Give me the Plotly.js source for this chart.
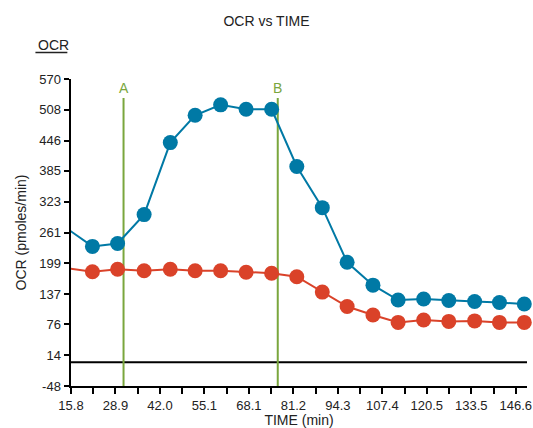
<!DOCTYPE html>
<html>
<head>
<meta charset="utf-8">
<script src="https://cdn.plot.ly/plotly-3.0.1.min.js"></script>
<style>html,body{margin:0;padding:0;background:#fff;}#chart{width:533px;height:428px;}</style>
</head>
<body>
<div id="chart"></div>
<script>
// Measurement times (min); the first one lies just left of the visible axis range
const times = [14.8, 22.1, 29.5, 37.3, 45.0, 52.3, 59.8, 67.3, 74.8, 82.2, 89.7, 97.0, 104.6, 112.0, 119.5, 126.9, 134.5, 141.8, 149.1];
// OCR series (pmoles/min)
const ocrBlue = [268, 233, 239, 297, 442, 497, 518, 509, 509, 394, 311, 201, 155, 125, 127, 124, 122, 120, 117];
const ocrRed  = [189, 182, 187, 184, 187, 184, 184, 181, 179, 172, 141, 112, 95, 80, 85, 82, 83, 80, 80];
// Injection markers
const injLabels = ["A", "B"];
const injTimes = [31.25, 76.6];
// Axis ticks
const yTickVals = [-48, 14, 76, 137, 199, 261, 323, 385, 446, 508, 570];
const yTickText = ["-48", "14", "76", "137", "199", "261", "323", "385", "446", "508", "570"];
const xTickLabels = ["15.8", "28.9", "42.0", "55.1", "68.1", "81.2", "94.3", "107.4", "120.5", "133.5", "146.6"];
const xStart = 15.8, xStep = 6.54, xMax = 149.9;

const xTickVals = [], xTickText = [];
for (let i = 0; i < 21; i++) {
  xTickVals.push(xStart + i * xStep);
  xTickText.push(i % 2 === 0 ? xTickLabels[i / 2] : "");
}

const font = "Arial, 'Liberation Sans', Helvetica, sans-serif";
const green = "#7aa63d";
const blue = "#0079a5", red = "#da4229";

const inRange = times.map((t) => t >= xStart);
const sel = (arr) => arr.filter((_, i) => inRange[i]);

const traces = [
  {x: times, y: ocrBlue, mode: "lines", type: "scatter", line: {color: blue, width: 2}, showlegend: false},
  {x: times, y: ocrRed, mode: "lines", type: "scatter", line: {color: red, width: 2}, showlegend: false},
  {x: sel(times), y: sel(ocrBlue), mode: "markers", type: "scatter", cliponaxis: false,
   marker: {color: blue, size: 15}, showlegend: false},
  {x: sel(times), y: sel(ocrRed), mode: "markers", type: "scatter", cliponaxis: false,
   marker: {color: red, size: 15}, showlegend: false}
];

const shapes = [
  {type: "line", xref: "x", yref: "y", x0: xStart, x1: xMax, y0: 0, y1: 0, line: {color: "#000", width: 2}, layer: "below"},
  {type: "line", xref: "paper", yref: "paper", x0: -0.078, x1: -0.008, y0: 1 + 26.5/307, y1: 1 + 26.5/307, line: {color: "#222", width: 1.5}}
];
const annotations = [
  {xref: "paper", yref: "paper", x: -0.077, y: 1.0 + 34/307, xanchor: "left", yanchor: "middle",
   text: "OCR", showarrow: false, font: {family: font, size: 14, color: "#222"}}
];
injTimes.forEach((t, i) => {
  shapes.push({type: "line", xref: "x", yref: "y", x0: t, x1: t, y0: -48, y1: 532, line: {color: green, width: 2}, layer: "below"});
  annotations.push({xref: "x", yref: "y", x: t, y: 552, text: injLabels[i], showarrow: false,
    xanchor: "center", yanchor: "middle", font: {family: font, size: 14, color: green}});
});

const layout = {
  width: 533, height: 428,
  margin: {l: 70.7, r: 5.7, t: 79.3, b: 42},
  paper_bgcolor: "#fff", plot_bgcolor: "#fff",
  font: {family: font, color: "#222", size: 13},
  title: {text: "OCR vs TIME", x: 0.5, xref: "container", y: 1 - 21.5/428, yref: "container", yanchor: "middle",
          font: {family: font, size: 14, color: "#222"}},
  xaxis: {
    range: [xStart, xMax], tickvals: xTickVals, ticktext: xTickText,
    ticks: "outside", ticklen: 6, tickwidth: 2, tickcolor: "#000",
    showline: true, linecolor: "#000", linewidth: 2, showgrid: false, zeroline: false,
    tickfont: {family: font, size: 13, color: "#222"},
    title: {text: "TIME (min)", standoff: 2, font: {family: font, size: 14, color: "#222"}}
  },
  yaxis: {
    range: [-48, 570], tickvals: yTickVals, ticktext: yTickText,
    ticks: "outside", ticklen: 5, tickwidth: 2, tickcolor: "#000",
    showline: true, linecolor: "#000", linewidth: 2.5, showgrid: false, zeroline: false,
    tickfont: {family: font, size: 13, color: "#222"},
    title: {text: "OCR (pmoles/min)", standoff: 10, font: {family: font, size: 14, color: "#222"}}
  },
  shapes: shapes,
  annotations: annotations
};

Plotly.newPlot("chart", traces, layout, {displayModeBar: false, staticPlot: true});
</script>
</body>
</html>
